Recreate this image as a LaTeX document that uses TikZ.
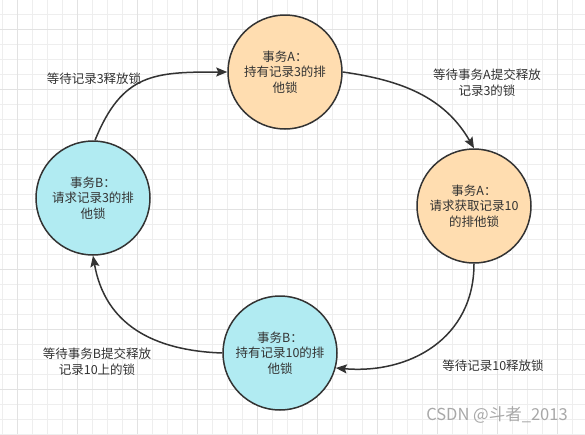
\documentclass[tikz,border=0pt]{standalone}
\usepackage{fontspec}
\setmainfont{Noto Sans CJK SC}
\usetikzlibrary{arrows.meta}
\definecolor{orangefill}{HTML}{FFDDB0}
\definecolor{bluefill}{HTML}{B1EBF2}
\definecolor{txt}{HTML}{333333}
\definecolor{gridminor}{HTML}{EEEEEE}
\definecolor{gridmajor}{HTML}{E2E2E2}
\definecolor{wm}{HTML}{A8A8A8}
\begin{document}
\begin{tikzpicture}[x=1pt,y=-1pt,
  statenode/.style={circle, draw=txt, line width=1.5pt, minimum size=114pt, inner sep=0pt,
    align=center, text=txt, font=\fontsize{12.5}{15.5}\selectfont},
  lbl/.style={align=center, text=txt, font=\fontsize{12.5}{16}\selectfont, inner sep=0pt},
  conn/.style={draw=txt, line width=1.5pt, -{Stealth[length=11pt,width=9pt,inset=2pt]}}]
\useasboundingbox (0,0) rectangle (585,434);
\fill[white] (0,0) rectangle (585,434);
% grid
\foreach \x in {2.3,17.3,...,585} \draw[gridminor, line width=0.8pt] (\x,0) -- (\x,434);
\foreach \y in {-1,14,...,434} \draw[gridminor, line width=0.8pt] (0,\y) -- (585,\y);
\foreach \x in {17.3,77.3,...,585} \draw[gridmajor, line width=0.8pt] (\x,0) -- (\x,434);
\foreach \y in {29,89,...,434} \draw[gridmajor, line width=0.8pt] (0,\y) -- (585,\y);
% nodes
\node[statenode, fill=orangefill] (a1) at (285,72) {事务A：\\持有记录3的排\\他锁};
\node[statenode, fill=orangefill] (a2) at (474,206) {事务A：\\请求获取记录10\\的排他锁};
\node[statenode, fill=bluefill] (b2) at (280,353) {事务B：\\持有记录10的排\\他锁};
\node[statenode, fill=bluefill] (b1) at (93,198) {事务B：\\请求记录3的排\\他锁};
% connectors
\draw[conn] (b1.88) to[out=68,in=180,looseness=1.25] (a1.west);
\draw[conn] (a1.east) to[out=-8,in=120] (a2.north);
\draw[conn] (a2.south) to[out=-90,in=-5,looseness=1.1] (b2.-15);
\draw[conn] (b2.west) to[out=178,in=-80,looseness=1.1] (b1.south);
% labels
\node[lbl] (l1) at (94,79) {等待记录3释放锁};
\node[lbl] (l2) at (487,83) {等待事务A提交释放\\记录3的锁};
\node[lbl] (l3) at (493,366) {等待记录10释放锁};
\node[lbl] (l4) at (97,362) {等待事务B提交释放\\记录10上的锁};
\node[text=wm, font=\fontsize{16.5}{19}\selectfont, inner sep=0pt] (wmk) at (497,415) {CSDN @斗者\_2013};
\end{tikzpicture}
\end{document}
